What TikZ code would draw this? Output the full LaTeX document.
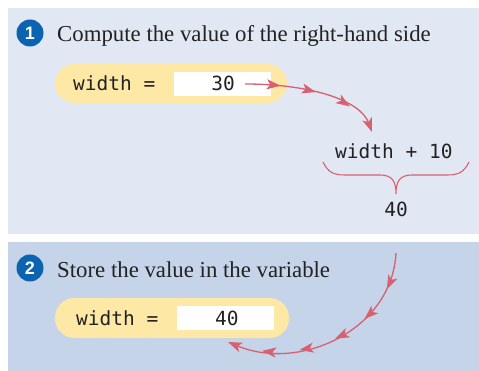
\documentclass[tikz,border=0pt]{standalone}
\usepackage{fontspec}
\setmainfont{Liberation Serif}
\setmonofont{DejaVu Sans Mono}
\newfontfamily\numfont{Liberation Sans}
\usetikzlibrary{arrows.meta,decorations.markings}
\definecolor{panelA}{HTML}{E1E8F3}
\definecolor{panelB}{HTML}{C6D4EA}
\definecolor{pillc}{HTML}{FDE8A6}
\definecolor{badgec}{HTML}{0C63AF}
\definecolor{flowc}{HTML}{D9606E}
\definecolor{inkc}{HTML}{222222}
\tikzset{
  headtip/.tip={Stealth[length=14pt,width=10pt,inset=3.5pt]},
  badgenode/.style={circle,fill=badgec,text=white,inner sep=0pt,minimum size=27pt,font=\numfont\bfseries\fontsize{18}{18}\selectfont},
  titlenode/.style={inner sep=0pt,text=inkc,font=\fontsize{22.8}{24}\selectfont},
  pillnode/.style={fill=pillc,rounded corners=19.5pt,inner sep=0pt},
  boxnode/.style={fill=white,inner sep=0pt},
  codenode/.style={inner sep=0pt,text=inkc,font=\ttfamily\fontsize{19.5}{20}\selectfont},
  flowline/.style={draw=flowc,line width=1.3pt},
  flowone/.style={flowline,-headtip,postaction={decorate},
    decoration={markings,
      mark=at position 0.25 with {\arrow{headtip}},
      mark=at position 0.50 with {\arrow{headtip}},
      mark=at position 0.76 with {\arrow{headtip}}}},
  flowtwo/.style={flowline,-headtip,postaction={decorate},
    decoration={markings,
      mark=at position 0.17 with {\arrow{headtip}},
      mark=at position 0.34 with {\arrow{headtip}},
      mark=at position 0.50 with {\arrow{headtip}},
      mark=at position 0.67 with {\arrow{headtip}},
      mark=at position 0.84 with {\arrow{headtip}}}},
}
\begin{document}
\begin{tikzpicture}[x=1pt,y=-1pt]
\useasboundingbox (0,0) rectangle (479,371);
\fill[white] (0,0) rectangle (479,371);
\fill[panelA] (8,8) rectangle (479,234);
\fill[panelB] (8,242) rectangle (479,371);
% step 1
\node[badgenode] (b1) at (30,33) {1};
\node[titlenode,anchor=base west] (t1) at (57,42) {Compute the value of the right-hand side};
\node[pillnode,minimum width=232pt,minimum height=39pt] (p1) at (171,83.5) {};
\node[boxnode,minimum width=97pt,minimum height=24pt] (v1) at (222.5,84) {};
\node[codenode,anchor=base west] (w1) at (73,91) {width =};
\node[codenode,anchor=base east] (n1) at (235,91) {30};
\node[codenode,anchor=base west] (e1) at (335,159) {width + 10};
\node[codenode,anchor=base] (r1) at (396,217) {40};
\coordinate (a1s) at (245,84);
\coordinate (a1e) at (372,132);
\draw[flowone] (a1s) .. controls (310,84) and (360,100) .. (a1e);
\draw[draw=flowc,line width=1.1pt] (323,162) .. controls (328,172) and (333,175) .. (345,175)
  -- (380,175) .. controls (392,175) and (396,181) .. (396,194)
  .. controls (396,181) and (400,175) .. (412,175)
  -- (447,175) .. controls (459,175) and (464,172) .. (469,162);
% step 2
\node[badgenode] (b2) at (30,268) {2};
\node[titlenode,anchor=base west] (t2) at (57,277) {Store the value in the variable};
\node[pillnode,minimum width=234pt,minimum height=40pt] (p2) at (172,318) {};
\node[boxnode,minimum width=97pt,minimum height=24pt] (v2) at (225.5,318) {};
\node[codenode,anchor=base west] (w2) at (76,325) {width =};
\node[codenode,anchor=base west] (n2) at (215,325) {40};
\coordinate (a2s) at (396,253);
\coordinate (a2e) at (228,342);
\draw[flowtwo] (a2s) .. controls (392,330) and (300,372) .. (a2e);
\end{tikzpicture}
\end{document}
